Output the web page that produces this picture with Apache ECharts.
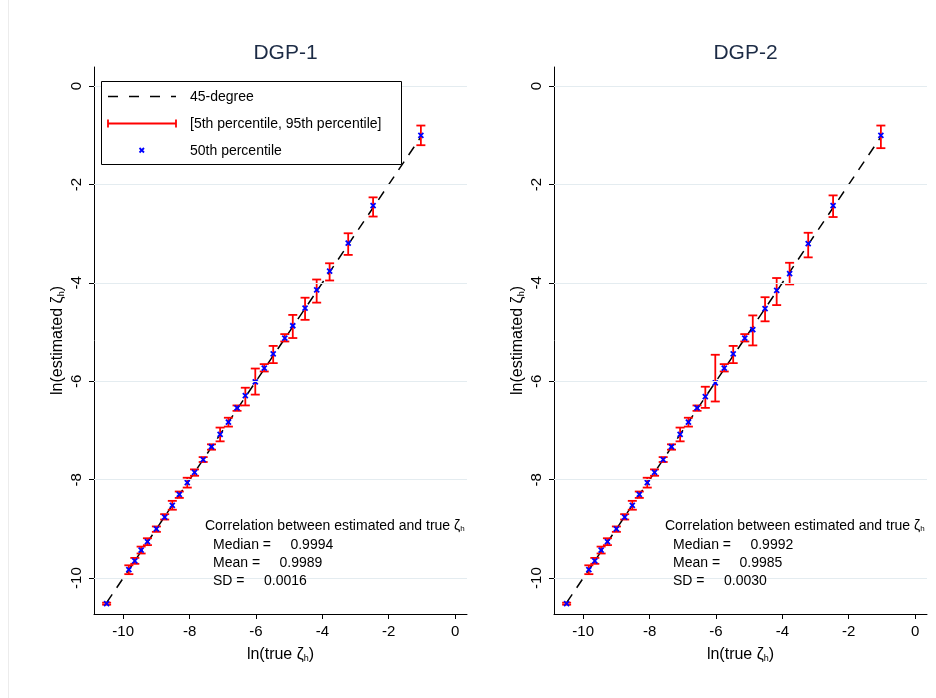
<!DOCTYPE html>
<html><head><meta charset="utf-8">
<script src="https://cdn.jsdelivr.net/npm/echarts@6/dist/echarts.min.js"></script>
<style>html,body{margin:0;padding:0;background:#fff}#c{width:936px;height:698px}</style>
</head><body><div id="c"></div>
<script>
// ---- data ----
const trueVals = [-10.5, -9.83, -9.65, -9.46, -9.27, -9.0, -8.75, -8.52, -8.31, -8.07, -7.85, -7.59, -7.34, -7.08, -6.83, -6.57, -6.32, -6.02, -5.75, -5.48, -5.13, -4.89, -4.52, -4.17, -3.78, -3.22, -2.47, -1.03];

const dgp1Median = [-10.52, -9.83, -9.65, -9.43, -9.26, -9.0, -8.76, -8.52, -8.30, -8.06, -7.85, -7.59, -7.33, -7.08, -6.83, -6.54, -6.29, -6.01, -5.73, -5.44, -5.12, -4.87, -4.51, -4.14, -3.76, -3.19, -2.43, -1.0];
const dgp1P5 = [-10.54, -9.92, -9.71, -9.50, -9.33, -9.06, -8.81, -8.61, -8.37, -8.16, -7.92, -7.64, -7.39, -7.22, -6.92, -6.60, -6.49, -6.27, -5.80, -5.63, -5.19, -5.12, -4.75, -4.40, -3.95, -3.43, -2.65, -1.20];
const dgp1P95 = [-10.50, -9.74, -9.59, -9.36, -9.19, -8.95, -8.70, -8.43, -8.24, -7.96, -7.79, -7.54, -7.28, -6.94, -6.74, -6.49, -6.13, -5.74, -5.65, -5.28, -5.04, -4.65, -4.30, -3.93, -3.60, -2.99, -2.26, -0.80];

const dgp2Median = [-10.52, -9.83, -9.65, -9.43, -9.26, -9.0, -8.76, -8.52, -8.30, -8.06, -7.85, -7.59, -7.33, -7.08, -6.83, -6.54, -6.31, -6.03, -5.73, -5.44, -5.12, -4.95, -4.52, -4.15, -3.81, -3.20, -2.43, -1.0];
const dgp2P5 = [-10.54, -9.92, -9.71, -9.50, -9.33, -9.06, -8.81, -8.61, -8.37, -8.16, -7.92, -7.64, -7.39, -7.22, -6.92, -6.60, -6.54, -6.41, -5.80, -5.63, -5.19, -5.27, -4.78, -4.45, -4.03, -3.48, -2.66, -1.26];
const dgp2P95 = [-10.50, -9.74, -9.59, -9.36, -9.19, -8.95, -8.70, -8.43, -8.24, -7.96, -7.79, -7.54, -7.28, -6.94, -6.74, -6.49, -6.11, -5.46, -5.65, -5.28, -5.04, -4.66, -4.29, -3.90, -3.59, -2.98, -2.22, -0.80];

const xTicks = [-10, -8, -6, -4, -2, 0];
const yTicks = [0, -2, -4, -6, -8, -10];
const panelTitles = ['DGP-1', 'DGP-2'];
const corrMedian = ['0.9994', '0.9992'];
const corrMean = ['0.9989', '0.9985'];
const corrSD = ['0.0016', '0.0030'];
const legendLabels = ['45-degree', '[5th percentile, 95th percentile]', '50th percentile'];

// ---- layout ----
const FONT = '"Liberation Sans", Arial, Helvetica, sans-serif';
const panels = [
  {left: 94, med: dgp1Median, p5: dgp1P5, p95: dgp1P95},
  {left: 554, med: dgp2Median, p5: dgp2P5, p95: dgp2P95}
];
const GRID_TOP = 67, GRID_W = 373, GRID_H = 547;
const X_MIN = -10.88, X_MAX = 0.36, Y_MIN = -10.73, Y_MAX = 0.39;

const grids = [], xAxes = [], yAxes = [], series = [], titles = [], graphics = [];
const subRich = {s: {fontSize: 9, fontFamily: FONT, color: '#000', verticalAlign: 'bottom', padding: [6, 0, 0, 0]}};

// faint graph-region edge on the left
graphics.push({type: 'line', z: 1, shape: {x1: 8.5, y1: 0, x2: 8.5, y2: 698}, style: {stroke: '#ececec', lineWidth: 1}});

panels.forEach((p, i) => {
  grids.push({left: p.left, top: GRID_TOP, width: GRID_W, height: GRID_H, containLabel: false});
  xAxes.push({
    type: 'value', gridIndex: i, min: X_MIN, max: X_MAX,
    axisLine: {show: true, onZero: false, lineStyle: {color: '#000', width: 1}},
    axisTick: {show: true, length: 5, customValues: xTicks, lineStyle: {color: '#000'}},
    axisLabel: {customValues: xTicks, fontSize: 15, color: '#000', margin: 10, fontFamily: FONT},
    splitLine: {show: false},
    name: 'ln(true ζ{s|h})', nameLocation: 'middle', nameGap: 33,
    nameTextStyle: {fontSize: 16, color: '#000', fontFamily: FONT, rich: subRich}
  });
  yAxes.push({
    type: 'value', gridIndex: i, min: Y_MIN, max: Y_MAX,
    axisLine: {show: true, onZero: false, lineStyle: {color: '#000', width: 1}},
    axisTick: {show: true, length: 5, customValues: yTicks, lineStyle: {color: '#000'}},
    axisLabel: {customValues: yTicks, fontSize: 15, color: '#000', margin: 10, rotate: 90, fontFamily: FONT},
    splitLine: {show: false},
    name: 'ln(estimated ζ{s|h})', nameLocation: 'middle', nameGap: 28, nameRotate: 90,
    nameTextStyle: {fontSize: 16, color: '#000', fontFamily: FONT, rich: subRich}
  });
  // gridlines
  series.push({
    type: 'line', xAxisIndex: i, yAxisIndex: i, data: [], z: 0, silent: true,
    markLine: {silent: true, symbol: 'none', label: {show: false},
      lineStyle: {color: '#e4ecf0', width: 1, type: 'solid'},
      data: yTicks.map(v => ({yAxis: v}))}
  });
  // 45-degree line
  const lo = Math.min(...trueVals), hi = Math.max(...trueVals);
  series.push({
    type: 'line', xAxisIndex: i, yAxisIndex: i, data: [[lo, lo], [hi, hi]],
    showSymbol: false, symbol: 'none', z: 2, silent: true,
    lineStyle: {color: '#000', width: 1.5, type: [10, 8]}
  });
  // error bars
  series.push({
    type: 'custom', xAxisIndex: i, yAxisIndex: i, z: 3, silent: true,
    data: trueVals.map((x, k) => [x, p.p5[k], p.p95[k]]),
    encode: {x: 0, y: [1, 2]},
    renderItem: (params, api) => {
      const a = api.coord([api.value(0), api.value(1)]);
      const b = api.coord([api.value(0), api.value(2)]);
      const w = 4.5;
      const st = {stroke: '#ff0000', lineWidth: 1.8, fill: null};
      return {type: 'group', children: [
        {type: 'line', shape: {x1: a[0], y1: a[1], x2: b[0], y2: b[1]}, style: st},
        {type: 'line', shape: {x1: a[0] - w, y1: a[1], x2: a[0] + w, y2: a[1]}, style: st},
        {type: 'line', shape: {x1: b[0] - w, y1: b[1], x2: b[0] + w, y2: b[1]}, style: st}
      ]};
    }
  });
  // medians (x markers)
  series.push({
    type: 'custom', xAxisIndex: i, yAxisIndex: i, z: 4, silent: true,
    data: trueVals.map((x, k) => [x, p.med[k]]),
    encode: {x: 0, y: 1},
    renderItem: (params, api) => {
      const c = api.coord([api.value(0), api.value(1)]);
      const r = 2.5;
      const st = {stroke: '#0000ff', lineWidth: 1.8, fill: null};
      return {type: 'group', children: [
        {type: 'line', shape: {x1: c[0] - r, y1: c[1] - r, x2: c[0] + r, y2: c[1] + r}, style: st},
        {type: 'line', shape: {x1: c[0] - r, y1: c[1] + r, x2: c[0] + r, y2: c[1] - r}, style: st}
      ]};
    }
  });
  titles.push({text: panelTitles[i], left: p.left + GRID_W / 2, top: 38, textAlign: 'center',
    textStyle: {fontSize: 21, fontWeight: 'normal', color: '#1c2b45', fontFamily: FONT}});
  // correlation annotation
  const ax = p.left + 111;
  const tStyle = {fontSize: 14, fill: '#000', fontFamily: FONT};
  graphics.push({type: 'text', left: ax, top: 519, z: 10, style: Object.assign({
    text: 'Correlation between estimated and true ζ{s|h}',
    rich: {s: {fontSize: 8, fontFamily: FONT, fill: '#000', verticalAlign: 'bottom', padding: [5, 0, 0, 0]}}}, tStyle)});
  graphics.push({type: 'text', left: ax + 8, top: 538, z: 10, style: Object.assign({text: 'Median =     ' + corrMedian[i]}, tStyle)});
  graphics.push({type: 'text', left: ax + 8, top: 556, z: 10, style: Object.assign({text: 'Mean =     ' + corrMean[i]}, tStyle)});
  graphics.push({type: 'text', left: ax + 8, top: 574, z: 10, style: Object.assign({text: 'SD =     ' + corrSD[i]}, tStyle)});
});

// legend box (drawn in the first panel)
const LX = 101, LY = 81;
graphics.push({type: 'rect', left: LX, top: LY, z: 20, shape: {width: 300, height: 83}, style: {fill: '#fff', stroke: '#000', lineWidth: 1}});
graphics.push({type: 'line', z: 21, shape: {x1: 108, y1: 96.5, x2: 176, y2: 96.5}, style: {stroke: '#000', lineWidth: 1.5, lineDash: [10, 11]}});
graphics.push({type: 'line', z: 21, shape: {x1: 108, y1: 123.5, x2: 176, y2: 123.5}, style: {stroke: '#ff0000', lineWidth: 1.8}});
graphics.push({type: 'line', z: 21, shape: {x1: 108, y1: 119.5, x2: 108, y2: 127.5}, style: {stroke: '#ff0000', lineWidth: 1.8}});
graphics.push({type: 'line', z: 21, shape: {x1: 176, y1: 119.5, x2: 176, y2: 127.5}, style: {stroke: '#ff0000', lineWidth: 1.8}});
graphics.push({type: 'line', z: 21, shape: {x1: 139.5, y1: 148, x2: 144, y2: 152.5}, style: {stroke: '#0000ff', lineWidth: 1.8}});
graphics.push({type: 'line', z: 21, shape: {x1: 139.5, y1: 152.5, x2: 144, y2: 148}, style: {stroke: '#0000ff', lineWidth: 1.8}});
legendLabels.forEach((t, k) => {
  graphics.push({type: 'text', left: 190, top: 90 + k * 27, z: 22, style: {text: t, fontSize: 14, fill: '#000', fontFamily: FONT}});
});

const chart = echarts.init(document.getElementById('c'), null, {renderer: 'canvas'});
chart.setOption({
  backgroundColor: '#fff',
  animation: false,
  title: titles,
  grid: grids,
  xAxis: xAxes,
  yAxis: yAxes,
  series: series,
  graphic: graphics
});
</script>
</body></html>
